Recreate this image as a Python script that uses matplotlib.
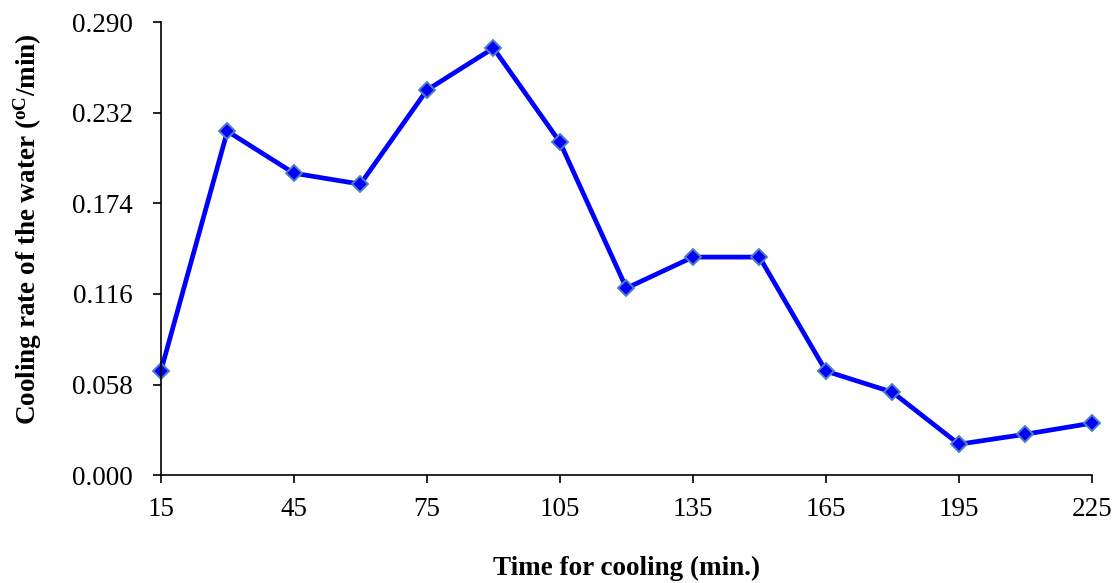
import numpy as np
from matplotlib import pyplot as plt

plt.rcParams['font.family'] = ['Liberation Serif', 'DejaVu Serif']
plt.rcParams['mathtext.fontset'] = 'custom'
plt.rcParams['mathtext.rm'] = 'Liberation Serif'
plt.rcParams['mathtext.bf'] = 'Liberation Serif:bold'

time_min = [15, 30, 45, 60, 75, 90, 105, 120, 135, 150, 165, 180, 195, 210, 225]
cooling_rate = [0.0666, 0.2202, 0.1933, 0.1863, 0.2465, 0.2734, 0.2132, 0.1197,
                0.1396, 0.1396, 0.0666, 0.0531, 0.0198, 0.0262, 0.0333]

x_ticks = [15, 45, 75, 105, 135, 165, 195, 225]
y_ticks = [0.000, 0.058, 0.116, 0.174, 0.232, 0.290]

fig = plt.figure(figsize=(11.17, 5.83), dpi=100)
ax = fig.add_axes([0.144, 0.185, 0.8336, 0.777])

ax.plot(time_min, cooling_rate, '-', color='#0000ff', lw=3.4,
        marker='D', ms=8, mfc='#0000ff', mec='#4f81bd', mew=1.4, clip_on=False)

ax.set_xlim(15, 225)
ax.set_ylim(0, 0.290)
ax.set_xticks(x_ticks)
ax.set_yticks(y_ticks)
ax.set_yticklabels(['%.3f' % v for v in y_ticks])
ax.tick_params(axis='both', labelsize=19.5, direction='out', length=6, width=1.2)
ax.tick_params(axis='x', pad=10)
ax.tick_params(axis='y', pad=14)

for s in ['top', 'right']:
    ax.spines[s].set_visible(False)
for s in ['left', 'bottom']:
    ax.spines[s].set_linewidth(1.2)

ax.set_xlabel('Time for cooling (min.)', fontsize=19.5, fontweight='bold')
ax.set_ylabel('Cooling rate of the water ($\\mathbf{^{oC}}$/min)', fontsize=19.5,
              fontweight='bold')
ax.xaxis.set_label_coords(0.5, -0.178)
ax.yaxis.set_label_coords(-0.126, 0.543)

plt.savefig('out.png', dpi=100)
